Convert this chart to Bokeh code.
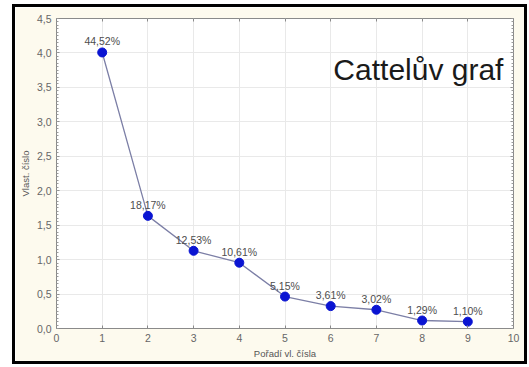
from bokeh.plotting import figure
from bokeh.models import (ColumnDataSource, LabelSet, Label, LinearAxis, FixedTicker,
                          CustomJSTickFormatter, Range1d)
from bokeh.core.properties import value
from bokeh.embed import file_html
from bokeh.resources import INLINE

# Scree plot data: component order, eigenvalues and share of explained variance
order = [1, 2, 3, 4, 5, 6, 7, 8, 9]
eigenvalues = [4.007, 1.635, 1.128, 0.955, 0.4635, 0.325, 0.272, 0.116, 0.099]
pct_labels = ["44,52%", "18,17%", "12,53%", "10,61%", "5,15%", "3,61%", "3,02%", "1,29%", "1,10%"]
x_ticks = [0, 1, 2, 3, 4, 5, 6, 7, 8, 9, 10]
y_ticks = [0.0, 0.5, 1.0, 1.5, 2.0, 2.5, 3.0, 3.5, 4.0, 4.5]
y_minor = [i * 0.05 for i in range(91)]

FONT = "Liberation Sans"
CREAM = "#fdfaee"

src = ColumnDataSource(dict(x=order, y=eigenvalues, lab=pct_labels))

p = figure(width=509, height=354, output_backend="svg", toolbar_location=None,
           x_range=Range1d(0, 10), y_range=Range1d(0, 4.5),
           x_axis_label="Pořadí vl. čísla", y_axis_label="Vlast. číslo",
           min_border_left=41, min_border_right=11, min_border_top=11, min_border_bottom=33,
           background_fill_color="white", border_fill_color=CREAM)
# panel sits inside a black frame drawn in the page margin
p.margin = (7, 5, 6, 15)
p.styles = {"outline": "3px solid black", "outline-offset": "0px"}
p.outline_line_color = "#8a8a8a"

comma = CustomJSTickFormatter(code="return tick.toFixed(1).replace('.', ',');")
blank = CustomJSTickFormatter(code="return '';")

for ax in p.xaxis:
    ax.ticker = FixedTicker(ticks=x_ticks)
for ax in p.yaxis:
    ax.ticker = FixedTicker(ticks=y_ticks, minor_ticks=y_minor)
    ax.formatter = comma

for ax in p.xaxis + p.yaxis:
    ax.axis_line_color = "#8a8a8a"
    ax.major_tick_line_color = "#8a8a8a"
    ax.minor_tick_line_color = "#9a9a9a"
    ax.major_tick_in = 3
    ax.major_tick_out = 0
    ax.minor_tick_in = 2
    ax.minor_tick_out = 0
    ax.major_label_text_font = FONT
    ax.major_label_text_font_size = "10.5px"
    ax.major_label_text_color = "#666666"
    ax.axis_label_text_font = FONT
    ax.axis_label_text_font_size = "9.5px"
    ax.axis_label_text_font_style = "normal"
    ax.axis_label_text_color = "#555555"
    ax.major_label_standoff = 5
    ax.axis_label_standoff = 3
for ax in p.xaxis:
    ax.minor_tick_line_color = None

# Frame axes on the top and right with ticks only
top = LinearAxis(ticker=FixedTicker(ticks=x_ticks), formatter=blank,
                 axis_line_color=None, major_tick_line_color="#8a8a8a",
                 major_tick_in=3, major_tick_out=0, minor_tick_line_color=None)
right = LinearAxis(ticker=FixedTicker(ticks=y_ticks, minor_ticks=y_minor), formatter=blank,
                   axis_line_color=None,
                   major_tick_line_color="#8a8a8a", minor_tick_line_color="#9a9a9a",
                   major_tick_in=3, major_tick_out=0, minor_tick_in=2, minor_tick_out=0)
p.add_layout(top, "above")
p.add_layout(right, "right")

p.xgrid.ticker = FixedTicker(ticks=x_ticks)
p.ygrid.ticker = FixedTicker(ticks=y_ticks)
p.grid.grid_line_color = "#e9e9e9"
p.grid.grid_line_width = 1

p.line("x", "y", source=src, line_color="#7c7fa6", line_width=1.3)
p.scatter("x", "y", source=src, size=9, fill_color="#0a14d2", line_color="#0a14d2")

p.add_layout(LabelSet(x="x", y="y", text="lab", source=src, y_offset=5,
                      text_align="center", text_baseline="bottom",
                      text_font=value(FONT), text_font_size="10.5px", text_color="#4d4d4d"))

p.add_layout(Label(x=9.78, y=3.755, text="Cattelův graf", text_align="right",
                   text_baseline="alphabetic", text_font=FONT,
                   text_font_size="30px", text_color="#1a1a1a"))

open("out.html", "w").write(file_html(p, INLINE))
